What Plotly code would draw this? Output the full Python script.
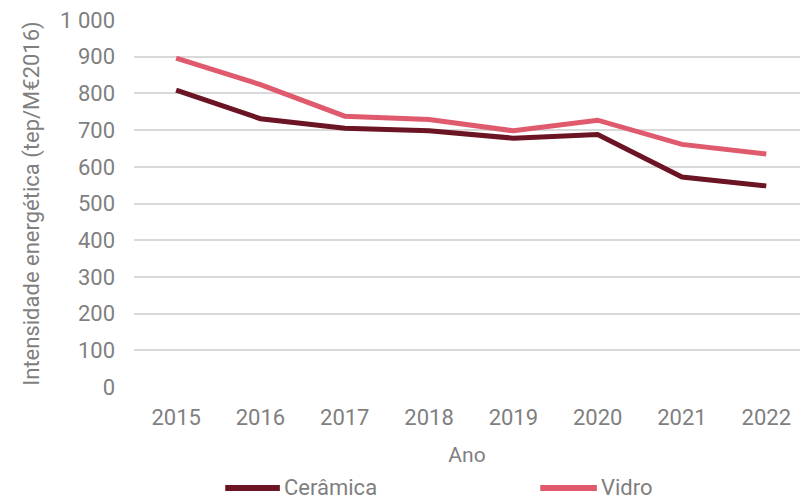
import plotly.graph_objects as go

anos = ["2015", "2016", "2017", "2018", "2019", "2020", "2021", "2022"]
ceramica = [809, 731, 705, 698, 678, 688, 572, 548]
vidro = [896, 824, 738, 729, 698, 727, 661, 635]
series = ["Cerâmica", "Vidro"]
cores = ["#6b1423", "#e05a6d"]

FONT = "Roboto"
GREY = "#7f7f7f"

fig = go.Figure()
for nome, vals, cor in zip(series, [ceramica, vidro], cores):
    fig.add_trace(go.Scatter(x=anos, y=vals, name=nome, mode="lines",
                             line=dict(color=cor, width=5)))

# legend drawn by hand so it sits low at the bottom edge, as in the original
leg_x = [(0.137, 0.219), (0.610, 0.695)]
leg_y = -0.275
for nome, cor, (x0, x1) in zip(series, cores, leg_x):
    fig.add_shape(type="line", xref="paper", yref="paper", x0=x0, x1=x1,
                  y0=leg_y, y1=leg_y, line=dict(color=cor, width=6))
    fig.add_annotation(text=nome, xref="paper", yref="paper", x=x1 + 0.003, y=leg_y,
                       xanchor="left", yanchor="middle", showarrow=False,
                       font=dict(size=22, color=GREY))

fig.update_layout(
    width=800, height=501,
    margin=dict(l=134, r=0, t=20, b=114),
    plot_bgcolor="white", paper_bgcolor="white",
    font=dict(family=FONT, size=19, color=GREY),
    separators=", ",
    showlegend=False,
)
fig.update_xaxes(type="category", range=[-0.5, 7.4], showgrid=False, showline=False,
                 ticks="", automargin=False, ticklabelstandoff=15,
                 tickfont=dict(size=22),
                 title=dict(text="Ano", standoff=18, font=dict(size=21)))
fig.update_yaxes(range=[0, 1000], dtick=100, separatethousands=True, tickformat=",d",
                 gridcolor="#d9d9d9", gridwidth=1.5, zeroline=False, ticks="",
                 automargin=False, ticklabelstandoff=18,
                 tickfont=dict(size=22),
                 title=dict(text="Intensidade energética (tep/M€2016)", standoff=14,
                            font=dict(size=22)))

fig.write_html("out.html", config={"displayModeBar": False},
               post_script="document.body.style.margin='0';")
